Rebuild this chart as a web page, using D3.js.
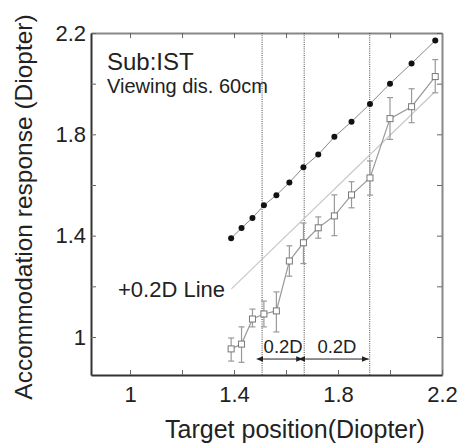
<!DOCTYPE html>
<html>
<head>
<meta charset="utf-8">
<script src="https://cdn.jsdelivr.net/npm/d3@7"></script>
<style>
body { margin: 0; background: #fff; }
text { font-family: "Liberation Sans", Arial, sans-serif; fill: #222; }
</style>
</head>
<body>
<script>
// target positions (Diopter) and responses
const targets   = [1.389, 1.429, 1.471, 1.515, 1.563, 1.613, 1.667, 1.724, 1.786, 1.852, 1.923, 2.0, 2.083, 2.174];
const idealResp = [1.39, 1.43, 1.47, 1.52, 1.56, 1.61, 1.67, 1.72, 1.79, 1.85, 1.92, 2.0, 2.08, 2.17];
const meanResp  = [0.953, 0.972, 1.071, 1.091, 1.103, 1.300, 1.372, 1.431, 1.478, 1.561, 1.628, 1.862, 1.909, 2.028];
const errHi     = [0.996, 1.04, 1.11, 1.142, 1.178, 1.36, 1.45, 1.474, 1.561, 1.613, 1.695, 1.945, 1.98, 2.095];
const errLo     = [0.905, 0.90, 1.04, 1.04, 1.02, 1.24, 1.29, 1.39, 1.40, 1.51, 1.56, 1.78, 1.846, 1.964];
const plusLineX = [1.39, 2.17];
const plusLineY = [1.19, 1.965];
const markLines = [1.508, 1.670, 1.922];
const arrowY = 0.913;
const tickVals = [1, 1.2, 1.4, 1.6, 1.8, 2, 2.2];
const labelVals = [1, 1.4, 1.8, 2.2];

const W = 461, H = 445;
const margin = {top: 33, right: 19, bottom: 70, left: 91};
const width = W - margin.left - margin.right;
const height = H - margin.top - margin.bottom;

var svg = d3.select("body").append("svg")
    .attr("width", W)
    .attr("height", H);

var defs = svg.append("defs");
defs.append("clipPath").attr("id", "clip")
    .append("rect").attr("width", width).attr("height", height);
["start", "end"].forEach(function(k) {
    defs.append("marker")
        .attr("id", "arr-" + k)
        .attr("viewBox", "0 0 10 10")
        .attr("refX", k == "end" ? 10 : 0).attr("refY", 5)
        .attr("markerWidth", 7).attr("markerHeight", 7)
        .attr("markerUnits", "userSpaceOnUse")
        .attr("orient", "auto-start-reverse")
        .append("path")
        .attr("d", "M0,1L10,5L0,9z")
        .attr("fill", "#222");
});

var g = svg.append("g")
    .attr("transform", "translate(" + margin.left + "," + margin.top + ")");

var x = d3.scaleLinear().domain([0.85, 2.2]).range([0, width]);
var y = d3.scaleLinear().domain([0.85, 2.2]).range([height, 0]);

function fmt(d) { return labelVals.indexOf(d) >= 0 ? d3.format("~g")(d) : ""; }

// axes, ticks pointing inward
var xAxis = d3.axisBottom(x).tickValues(tickVals).tickFormat(fmt)
    .tickSizeInner(-5).tickSizeOuter(0).tickPadding(11);
var yAxis = d3.axisLeft(y).tickValues(tickVals).tickFormat(fmt)
    .tickSizeInner(-5).tickSizeOuter(0).tickPadding(5);
var xTop = d3.axisTop(x).tickValues(tickVals).tickFormat("")
    .tickSizeInner(-5).tickSizeOuter(0);
var yRight = d3.axisRight(y).tickValues(tickVals).tickFormat("")
    .tickSizeInner(-5).tickSizeOuter(0);

g.append("g").attr("class", "axis top").call(xTop);
g.append("g").attr("class", "axis right")
    .attr("transform", "translate(" + width + ",0)").call(yRight);
g.append("g").attr("class", "axis bottom")
    .attr("transform", "translate(0," + height + ")").call(xAxis);
g.append("g").attr("class", "axis left").call(yAxis);

g.selectAll(".axis text").style("font-size", "22px").attr("fill", "#222");
g.selectAll(".axis .tick line").attr("stroke", "#666");
g.selectAll(".axis.top .domain, .axis.right .domain").attr("stroke", "#888").attr("stroke-width", 2);
g.selectAll(".axis.bottom .domain, .axis.left .domain").attr("stroke", "#333").attr("stroke-width", 2);

var plot = g.append("g").attr("clip-path", "url(#clip)");

// dotted reference lines
plot.selectAll(".vline").data(markLines).enter().append("line")
    .attr("class", "vline")
    .attr("x1", d => x(d)).attr("x2", d => x(d))
    .attr("y1", 0).attr("y2", height)
    .attr("stroke", "#444").attr("stroke-width", 1)
    .attr("stroke-dasharray", "1,1.2");

// +0.2D line
var line = d3.line().x(d => x(d[0])).y(d => y(d[1]));
plot.append("path")
    .datum(d3.zip(plusLineX, plusLineY))
    .attr("d", line)
    .attr("fill", "none").attr("stroke", "#c8c8c8").attr("stroke-width", 1.2);

// ideal response (black dots)
var ideal = d3.zip(targets, idealResp);
plot.append("path").datum(ideal).attr("d", line)
    .attr("fill", "none").attr("stroke", "#888").attr("stroke-width", 1);
plot.selectAll(".dot").data(ideal).enter().append("circle")
    .attr("class", "dot")
    .attr("cx", d => x(d[0])).attr("cy", d => y(d[1]))
    .attr("r", 3).attr("fill", "#111");

// measured response with error bars
var meas = targets.map((t, i) => ({x: t, y: meanResp[i], hi: errHi[i], lo: errLo[i]}));
plot.append("path").datum(meas.map(d => [d.x, d.y])).attr("d", line)
    .attr("fill", "none").attr("stroke", "#999").attr("stroke-width", 1.2);

var eb = plot.selectAll(".err").data(meas).enter().append("g").attr("class", "err")
    .attr("stroke", "#999").attr("stroke-width", 1.2);
eb.append("line")
    .attr("x1", d => x(d.x)).attr("x2", d => x(d.x))
    .attr("y1", d => y(d.hi)).attr("y2", d => y(d.lo));
eb.append("line")
    .attr("x1", d => x(d.x) - 3).attr("x2", d => x(d.x) + 3)
    .attr("y1", d => y(d.hi)).attr("y2", d => y(d.hi));
eb.append("line")
    .attr("x1", d => x(d.x) - 3).attr("x2", d => x(d.x) + 3)
    .attr("y1", d => y(d.lo)).attr("y2", d => y(d.lo));

plot.selectAll(".sq").data(meas).enter().append("rect")
    .attr("class", "sq")
    .attr("x", d => x(d.x) - 3).attr("y", d => y(d.y) - 3)
    .attr("width", 6).attr("height", 6)
    .attr("fill", "#fff").attr("stroke", "#777").attr("stroke-width", 1);

// 0.2D arrows
for (var i = 0; i < markLines.length - 1; i++) {
    var a = x(markLines[i]), b = x(markLines[i + 1]);
    g.append("line")
        .attr("x1", a + 1).attr("x2", b - 1)
        .attr("y1", y(arrowY)).attr("y2", y(arrowY))
        .attr("stroke", "#222").attr("stroke-width", 1)
        .attr("marker-start", "url(#arr-start)")
        .attr("marker-end", "url(#arr-end)");
    g.append("text")
        .attr("x", (a + b) / 2).attr("y", y(arrowY) - 6)
        .attr("text-anchor", "middle")
        .style("font-size", "18.5px")
        .text("0.2D");
}

// annotations
g.append("text").attr("x", 16).attr("y", 37).style("font-size", "24px").text("Sub:IST");
g.append("text").attr("x", 16).attr("y", 60).style("font-size", "20px").text("Viewing dis. 60cm");
g.append("text").attr("x", 27).attr("y", 264).style("font-size", "22px").text("+0.2D Line");

// axis titles
svg.append("text")
    .attr("x", 295).attr("y", 438)
    .attr("text-anchor", "middle")
    .style("font-size", "25px")
    .text("Target position(Diopter)");
svg.append("text")
    .attr("transform", "translate(32,207) rotate(-90)")
    .attr("text-anchor", "middle")
    .style("font-size", "24.5px")
    .text("Accommodation response (Diopter)");
</script>
</body>
</html>
